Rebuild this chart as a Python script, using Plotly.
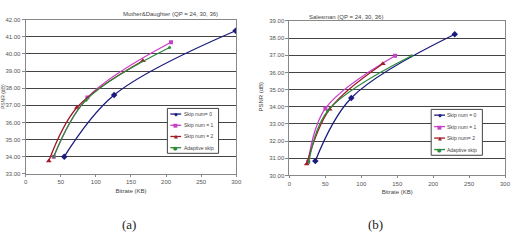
import plotly.graph_objects as go

W, H = 513, 252

series_names_a = ["Skip num= 0", "Skip num = 1", "Skip num = 2", "Adaptive skip"]
series_names_b = ["Skip num = 0", "Skip num = 1", "Skip num= 2", "Adaptive skip"]

# (a) Mother&Daughter
a_skip0_x = [55, 126, 299]
a_skip0_y = [34.00, 37.60, 41.35]
a_skip1_x = [40, 88, 207]
a_skip1_y = [34.00, 37.45, 40.68]
a_skip2_x = [33, 73, 167]
a_skip2_y = [33.75, 36.87, 39.60]
a_adapt_x = [40, 86, 205]
a_adapt_y = [34.00, 37.30, 40.37]

# (b) Salesman
b_skip0_x = [36, 86, 230]
b_skip0_y = [30.84, 34.51, 38.22]
b_skip1_x = [26, 50, 147]
b_skip1_y = [30.80, 33.90, 36.97]
b_skip2_x = [24, 56, 130]
b_skip2_y = [30.67, 33.86, 36.50]
b_adapt_x = [27, 53, 170]
b_adapt_y = [30.80, 33.75, 36.97]

x_ticks = [0, 50, 100, 150, 200, 250, 300]
a_y_ticks = [33, 34, 35, 36, 37, 38, 39, 40, 41, 42]
b_y_ticks = [30, 31, 32, 33, 34, 35, 36, 37, 38, 39]

colors = ["#1c1c80", "#c840c8", "#a01c28", "#2a8a3a"]
symbols = ["diamond", "square", "triangle-up", "circle"]
glyphs = ["\u25c6", "\u25a0", "\u25b2", "\u25cf"]
msizes = [5, 4, 5, 3]

fig = go.Figure()

def add_set(xs, ys, axn):
    for i, (x, y) in enumerate(zip(xs, ys)):
        fig.add_trace(go.Scatter(
            x=x, y=y, mode="lines+markers",
            line=dict(color=colors[i], width=1.3, shape="spline", smoothing=1.0),
            marker=dict(color=colors[i], symbol=symbols[i], size=msizes[i]),
            xaxis="x" + axn, yaxis="y" + axn, showlegend=False, hoverinfo="skip"))

add_set([a_skip0_x, a_skip1_x, a_skip2_x, a_adapt_x],
        [a_skip0_y, a_skip1_y, a_skip2_y, a_adapt_y], "")
add_set([b_skip0_x, b_skip1_x, b_skip2_x, b_adapt_x],
        [b_skip0_y, b_skip1_y, b_skip2_y, b_adapt_y], "2")

tick_font = dict(family="Arial, Liberation Sans", size=6, color="#555")

def xa(dom, anchor):
    return dict(domain=dom, range=[0, 300], tickvals=x_ticks, anchor=anchor,
                ticktext=[str(v) for v in x_ticks], tickfont=tick_font,
                showgrid=False, zeroline=False, showline=True, linecolor="#888",
                linewidth=1, mirror=True, ticks="outside", ticklen=2, tickcolor="#888",
                title=dict(text="Bitrate (KB)", font=dict(family="Arial, Liberation Sans", size=6, color="#444"), standoff=4))

def ya(dom, ticks, anchor, title=None):
    d = dict(domain=dom, range=[ticks[0], ticks[-1]], tickvals=ticks,
             ticktext=["%.2f" % v for v in ticks], tickfont=tick_font,
             showgrid=True, gridcolor="#444", gridwidth=1, zeroline=False,
             showline=True, linecolor="#888", linewidth=1, mirror=True,
             ticks="outside", ticklen=3, tickcolor="#888", anchor=anchor)
    if title:
        d["title"] = dict(text=title, standoff=1,
                          font=dict(family="Arial, Liberation Sans", size=5, color="#444"))
    return d

fig.update_layout(
    width=W, height=H, margin=dict(l=0, r=0, t=0, b=0),
    paper_bgcolor="white", plot_bgcolor="white",
    xaxis=xa([24 / W, 238 / W], "y"),
    yaxis=ya([(H - 175) / H, (H - 17) / H], a_y_ticks, "x", "PSNR (dB)"),
    xaxis2=xa([292 / W, 511 / W], "y2"),
    yaxis2=ya([(H - 176.7) / H, (H - 18.3) / H], b_y_ticks, "x2"),
)

ann = []
txt = dict(family="Arial, Liberation Sans", size=6, color="#444")
leg_txt = dict(family="Arial, Liberation Sans", size=5, color="#444")
ann.append(dict(text="Mother&Daughter (QP = 24, 30, 36)", x=121 / W, y=1 - 6 / H,
                xref="paper", yref="paper", showarrow=False, font=txt))
ann.append(dict(text="Salesman (QP = 24, 30, 36)", x=389 / W, y=1 - 9 / H,
                xref="paper", yref="paper", showarrow=False, font=txt))
ann.append(dict(text="PSNR (dB)", x=263 / W, y=(H - 96) / H, xref="paper", yref="paper",
                xanchor="center", showarrow=False, textangle=-90, font=txt))
ann.append(dict(text="(a)", x=120 / W, y=1 - 237 / H, xref="paper", yref="paper",
                showarrow=False, font=dict(family="Liberation Serif, Times New Roman", size=13, color="#222")))
ann.append(dict(text="(b)", x=389 / W, y=1 - 237 / H, xref="paper", yref="paper",
                showarrow=False, font=dict(family="Liberation Serif, Times New Roman", size=13, color="#222")))

shapes = []
def legend(x0, y0, x1, y1, names):
    shapes.append(dict(type="rect", xref="paper", yref="paper",
                       x0=x0 / W, x1=x1 / W, y0=1 - y1 / H, y1=1 - y0 / H,
                       line=dict(color="#444", width=1), fillcolor="white"))
    step = (y1 - y0) / 4
    for i, n in enumerate(names):
        yc = y0 + step * (i + 0.5)
        shapes.append(dict(type="line", xref="paper", yref="paper",
                           x0=(x0 + 3) / W, x1=(x0 + 14) / W, y0=1 - yc / H, y1=1 - yc / H,
                           line=dict(color=colors[i], width=1.3)))
        ann.append(dict(text=glyphs[i], x=(x0 + 8.5) / W, y=1 - yc / H, xref="paper", yref="paper",
                        xanchor="center", showarrow=False, font=dict(family="DejaVu Sans", size=5, color=colors[i])))
        ann.append(dict(text=n, x=(x0 + 14.5) / W, y=1 - yc / H, xref="paper", yref="paper",
                        xanchor="left", showarrow=False, font=leg_txt))

legend(168, 108, 220, 154, series_names_a)
legend(436, 109, 488, 156, series_names_b)

fig.update_layout(annotations=ann, shapes=shapes)

fig.write_html("out.html")
